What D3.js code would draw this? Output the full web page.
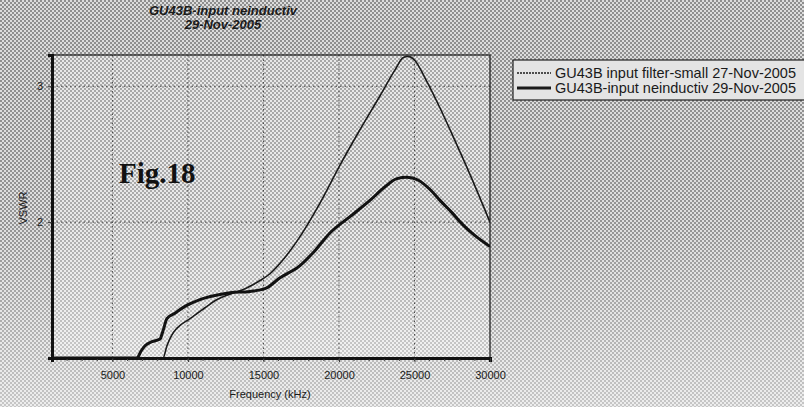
<!DOCTYPE html>
<html>
<head>
<meta charset="utf-8">
<script src="https://cdn.jsdelivr.net/npm/d3@7"></script>
<style>
  html, body { margin: 0; padding: 0; background: #c8c8c8; }
  svg { display: block; }
</style>
</head>
<body>
<svg id="chart" width="804" height="407"></svg>
<script>
// VSWR sweep of the GU43B input network, frequency in kHz
const filterFreq = [1000, 8350, 8610, 8940, 9280, 10140, 11130, 11930, 12780, 13780, 14770, 15430, 16200,
  17220, 18745, 20070, 21390, 22720, 23710, 24240, 24570, 25030, 25700, 26690, 27680, 28680, 30000];
const filterVswr = [1.0, 1.0, 1.09, 1.17, 1.22, 1.29, 1.37, 1.43, 1.47, 1.51, 1.57, 1.62, 1.71,
  1.86, 2.14, 2.42, 2.68, 2.93, 3.12, 3.21, 3.22, 3.19, 3.06, 2.84, 2.60, 2.35, 2.0];

const neindFreq = [1000, 6630, 6890, 7160, 7620, 8150, 8350, 8610, 9140, 9800, 10800, 11790, 12780, 14110,
  15100, 16100, 17420, 18410, 19400, 20730, 22050, 23050, 23840, 24510, 25230, 26030, 26690, 27480, 28210, 29010, 30000];
const neindVswr = [1.0, 1.0, 1.05, 1.09, 1.12, 1.14, 1.20, 1.29, 1.33, 1.38, 1.43, 1.46, 1.48, 1.49,
  1.51, 1.59, 1.68, 1.79, 1.92, 2.04, 2.16, 2.26, 2.32, 2.33, 2.31, 2.24, 2.16, 2.07, 1.98, 1.90, 1.82];

const xTicks = [5000, 10000, 15000, 20000, 25000, 30000];
const yTicks = [2, 3];
const seriesNames = ["GU43B input filter-small 27-Nov-2005", "GU43B-input  neinductiv 29-Nov-2005"];
const titleLines = ["GU43B-input  neinductiv", "29-Nov-2005"];

const svg = d3.select("#chart");
const W = 804, H = 407;
const plot = { left: 52, top: 55, right: 490, bottom: 358 };

// halftone screen used for the page and plot backgrounds
const defs = svg.append("defs");
function addScreen(id, light, dark) {
  const p = defs.append("pattern").attr("id", id)
    .attr("width", 4).attr("height", 4).attr("patternUnits", "userSpaceOnUse");
  p.append("rect").attr("width", 4).attr("height", 4).attr("fill", light);
  p.append("rect").attr("width", 2).attr("height", 2).attr("fill", dark);
  p.append("rect").attr("x", 2).attr("y", 2).attr("width", 2).attr("height", 2).attr("fill", dark);
}
addScreen("screen", "#dcdcdc", "#8e8e8e");
addScreen("screenLight", "#e8e8e8", "#a6a6a6");

const fade = defs.append("linearGradient").attr("id", "fade").attr("x1", 0).attr("y1", 0).attr("x2", 0).attr("y2", 1);
fade.append("stop").attr("offset", "0").attr("stop-color", "#fff").attr("stop-opacity", 0);
fade.append("stop").attr("offset", "0.55").attr("stop-color", "#fff").attr("stop-opacity", 0.05);
fade.append("stop").attr("offset", "1").attr("stop-color", "#fff").attr("stop-opacity", 0.5);

svg.append("rect").attr("width", W).attr("height", H).attr("fill", "url(#screen)");
svg.append("rect").attr("x", plot.left).attr("y", plot.top)
  .attr("width", plot.right - plot.left).attr("height", plot.bottom - plot.top)
  .attr("fill", "url(#screenLight)");
svg.append("rect").attr("width", W).attr("height", H).attr("fill", "url(#fade)");

const x = d3.scaleLinear().domain([1000, 30000]).range([plot.left, plot.right]);
const y = d3.scaleLinear().domain([1, 3.23]).range([plot.bottom, plot.top]);

// dotted grid
const grid = svg.append("g").attr("stroke", "#444").attr("stroke-width", 1).attr("stroke-dasharray", "1.5,3");
grid.selectAll("line.v").data(xTicks.filter(d => d < 30000)).join("line")
  .attr("x1", d => x(d)).attr("x2", d => x(d)).attr("y1", plot.top).attr("y2", plot.bottom);
grid.selectAll("line.h").data(yTicks).join("line")
  .attr("x1", plot.left).attr("x2", plot.right).attr("y1", d => y(d)).attr("y2", d => y(d));

// frame
svg.append("rect").attr("x", plot.left).attr("y", plot.top)
  .attr("width", plot.right - plot.left).attr("height", plot.bottom - plot.top)
  .attr("fill", "none").attr("stroke", "#222").attr("stroke-width", 1.3);

// curves
const line = d3.line().x(d => x(d[0])).y(d => y(d[1])).curve(d3.curveMonotoneX);
const clip = defs.append("clipPath").attr("id", "plotClip");
clip.append("rect").attr("x", plot.left).attr("y", plot.top - 1)
  .attr("width", plot.right - plot.left).attr("height", plot.bottom - plot.top + 2);
const curves = svg.append("g").attr("clip-path", "url(#plotClip)").attr("fill", "none");
curves.append("path").datum(d3.zip(filterFreq, filterVswr)).attr("d", line)
  .attr("stroke", "#1a1a1a").attr("stroke-width", 1.6);
curves.append("path").datum(d3.zip(neindFreq, neindVswr)).attr("d", line)
  .attr("stroke", "#111").attr("stroke-width", 3);

const axisFont = "'Liberation Sans', Arial, sans-serif";

// axes
const xAxis = d3.axisBottom(x).tickValues(xTicks).tickSize(4).tickPadding(9).tickFormat(d3.format("d"));
const gx = svg.append("g").attr("transform", `translate(0,${plot.bottom})`).call(xAxis);
gx.select(".domain").attr("stroke", "#111").attr("stroke-width", 3);
gx.selectAll(".tick line").attr("stroke", "#333");
gx.selectAll(".tick text").attr("font-family", axisFont)
  .attr("font-size", 11).attr("fill", "#1a1a1a");
// minor ticks along the frequency axis
svg.append("g").selectAll("line").data(d3.range(2000, 30000, 1000)).join("line")
  .attr("x1", d => x(d)).attr("x2", d => x(d)).attr("y1", plot.bottom + 1).attr("y2", plot.bottom + 3)
  .attr("stroke", "#444");

const yAxis = d3.axisLeft(y).tickValues(yTicks).tickSize(4).tickPadding(5).tickFormat(d3.format("d"));
const gy = svg.append("g").attr("transform", `translate(${plot.left},0)`).call(yAxis);
gy.select(".domain").attr("stroke", "#111").attr("stroke-width", 3);
gy.selectAll(".tick line").attr("stroke", "#333");
gy.selectAll(".tick text").attr("font-family", axisFont)
  .attr("font-size", 11).attr("fill", "#1a1a1a");

// axis titles
svg.append("text").attr("x", 270).attr("y", 398).attr("text-anchor", "middle")
  .attr("font-family", axisFont).attr("font-size", 11).attr("fill", "#1a1a1a")
  .text("Frequency (kHz)");
svg.append("text").attr("transform", "translate(27,208) rotate(-90)").attr("text-anchor", "middle")
  .attr("font-family", axisFont).attr("font-size", 11).attr("fill", "#1a1a1a")
  .text("VSWR");

// chart title
svg.append("g").selectAll("text").data(titleLines).join("text")
  .attr("x", 223).attr("y", (d, i) => 15 + i * 14).attr("text-anchor", "middle")
  .attr("font-family", "'Liberation Sans Narrow', 'Liberation Sans', Arial, sans-serif")
  .attr("font-style", "italic").attr("font-weight", "bold").attr("font-size", 13).attr("fill", "#1a1a1a")
  .text(d => d);

// figure label
svg.append("text").attr("x", 119).attr("y", 183)
  .attr("font-family", "'Liberation Serif', 'Times New Roman', serif").attr("font-weight", "bold")
  .attr("font-size", 29).attr("fill", "#111").text("Fig.18");

// legend
const lg = svg.append("g");
lg.append("rect").attr("x", 513).attr("y", 60).attr("width", 300).attr("height", 40)
  .attr("fill", "#e4e4e4").attr("stroke", "#222").attr("stroke-width", 1.2);
const legendRows = lg.selectAll("g").data(seriesNames).join("g")
  .attr("transform", (d, i) => `translate(0,${73 + i * 15})`);
legendRows.append("line").attr("x1", 517).attr("x2", 551).attr("y1", 0).attr("y2", 0)
  .attr("stroke", "#1a1a1a")
  .attr("stroke-width", (d, i) => i === 0 ? 1.4 : 2.8)
  .attr("stroke-dasharray", (d, i) => i === 0 ? "2,1" : null);
legendRows.append("text").attr("x", 555).attr("y", 5)
  .attr("font-family", axisFont).attr("font-size", 14.5).attr("fill", "#1a1a1a")
  .text(d => d);
</script>
</body>
</html>
